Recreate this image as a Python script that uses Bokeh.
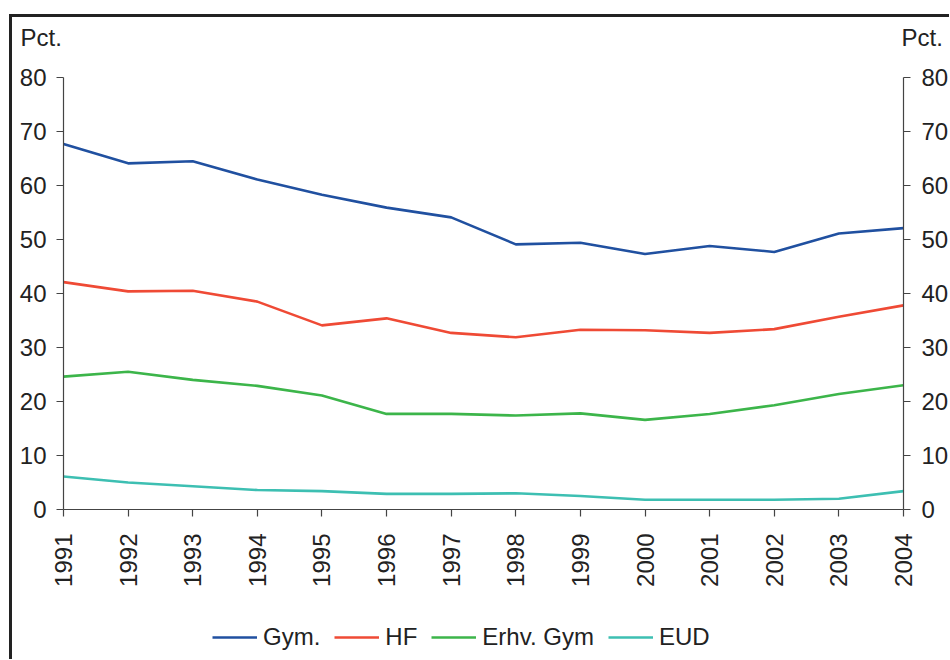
from bokeh.plotting import figure
from bokeh.models import (Range1d, LinearAxis, Legend, LegendItem, FixedTicker, InlineStyleSheet, Label)
from bokeh.embed import file_html
from bokeh.resources import INLINE
import math

years = [1991, 1992, 1993, 1994, 1995, 1996, 1997, 1998, 1999, 2000, 2001, 2002, 2003, 2004]
gym = [67.7, 64.1, 64.5, 61.1, 58.3, 55.9, 54.1, 49.1, 49.4, 47.3, 48.8, 47.7, 51.1, 52.1]
hf = [42.1, 40.4, 40.5, 38.5, 34.1, 35.4, 32.7, 31.9, 33.3, 33.2, 32.7, 33.4, 35.7, 37.8]
erhv = [24.6, 25.5, 24.0, 22.9, 21.1, 17.7, 17.7, 17.4, 17.8, 16.6, 17.7, 19.3, 21.4, 23.0]
eud = [6.1, 5.0, 4.3, 3.6, 3.4, 2.9, 2.9, 3.0, 2.5, 1.8, 1.8, 1.8, 2.0, 3.4]

series_names = ["Gym.", "HF", "Erhv. Gym", "EUD"]
series_colors = ["#2050a0", "#ef4a35", "#3cb54a", "#3dbfb2"]
y_ticks = [0, 10, 20, 30, 40, 50, 60, 70, 80]
unit_label = "Pct."

FONT = "Liberation Sans"
FS = "24px"
TXT = "#222222"

# canvas geometry (pixels): plot area spans x 63..903, y 77..509 in a 949x659 canvas
W, H = 949, 659
PL, PR, PT, PB = 63, 903, 77, 509
x0, x1 = years[0], years[-1]
y0, y1 = y_ticks[0], y_ticks[-1]
xs = (x1 - x0) / (PR - PL)
ys = (y1 - y0) / (PB - PT)

frame_css = InlineStyleSheet(css="""
:host::before {
  content: "";
  position: absolute;
  left: 9px;
  top: 14px;
  width: calc(100% - 9px);
  height: calc(100% - 14px);
  border-left: 3px solid #222222;
  border-top: 3px solid #222222;
  box-sizing: border-box;
  pointer-events: none;
  z-index: 10;
}
""")

p = figure(width=W, height=H, output_backend="svg", toolbar_location=None,
           x_range=Range1d(x0 - PL * xs, x1 + (W - PR) * xs),
           y_range=Range1d(y0 - (H - PB) * ys, y1 + PT * ys),
           min_border_left=0, min_border_right=0, min_border_top=0, min_border_bottom=0,
           background_fill_color="white", border_fill_color="white",
           stylesheets=[frame_css])
p.outline_line_color = None
p.xgrid.visible = False
p.ygrid.visible = False

renderers = []
for vals, col in zip([gym, hf, erhv, eud], series_colors):
    r = p.line(years, vals, line_color=col, line_width=2.6)
    renderers.append(r)

def style_axis(ax, standoff):
    ax.axis_line_color = "#444444"
    ax.axis_line_width = 1.2
    ax.major_tick_line_color = "#444444"
    ax.major_tick_line_width = 1.2
    ax.major_tick_in = 0
    ax.major_tick_out = 7
    ax.minor_tick_line_color = None
    ax.major_label_text_font = FONT
    ax.major_label_text_font_size = FS
    ax.major_label_text_color = TXT
    ax.major_label_standoff = standoff

xa = p.xaxis[0]
style_axis(xa, 17)
xa.ticker = FixedTicker(ticks=years)
xa.major_label_orientation = math.pi / 2
xa.fixed_location = y0
xa.bounds = (x0, x1)

ya = p.yaxis[0]
style_axis(ya, 10)
ya.ticker = FixedTicker(ticks=y_ticks)
ya.fixed_location = x0
ya.bounds = (y0, y1)

right = LinearAxis()
style_axis(right, 11)
right.ticker = FixedTicker(ticks=y_ticks)
right.fixed_location = x1
right.bounds = (y0, y1)
p.add_layout(right, "right")

legend = Legend(items=[LegendItem(label=n, renderers=[r]) for n, r in zip(series_names, renderers)],
                orientation="horizontal", location=(212, 8),
                label_text_font=FONT, label_text_font_size=FS, label_text_color=TXT,
                glyph_width=45, glyph_height=20, label_standoff=6, spacing=14,
                padding=0, margin=0, border_line_color=None, background_fill_alpha=0)
p.add_layout(legend, "center")

label_base = y1 + 40 * ys
p.add_layout(Label(x=x0 - 43 * xs, y=label_base, text=unit_label, text_font=FONT,
                   text_font_size=FS, text_color=TXT, text_baseline="alphabetic"))
p.add_layout(Label(x=x1 - 2 * xs, y=label_base, text=unit_label, text_font=FONT,
                   text_font_size=FS, text_color=TXT, text_baseline="alphabetic"))

open("out.html", "w").write(file_html(p, INLINE))
